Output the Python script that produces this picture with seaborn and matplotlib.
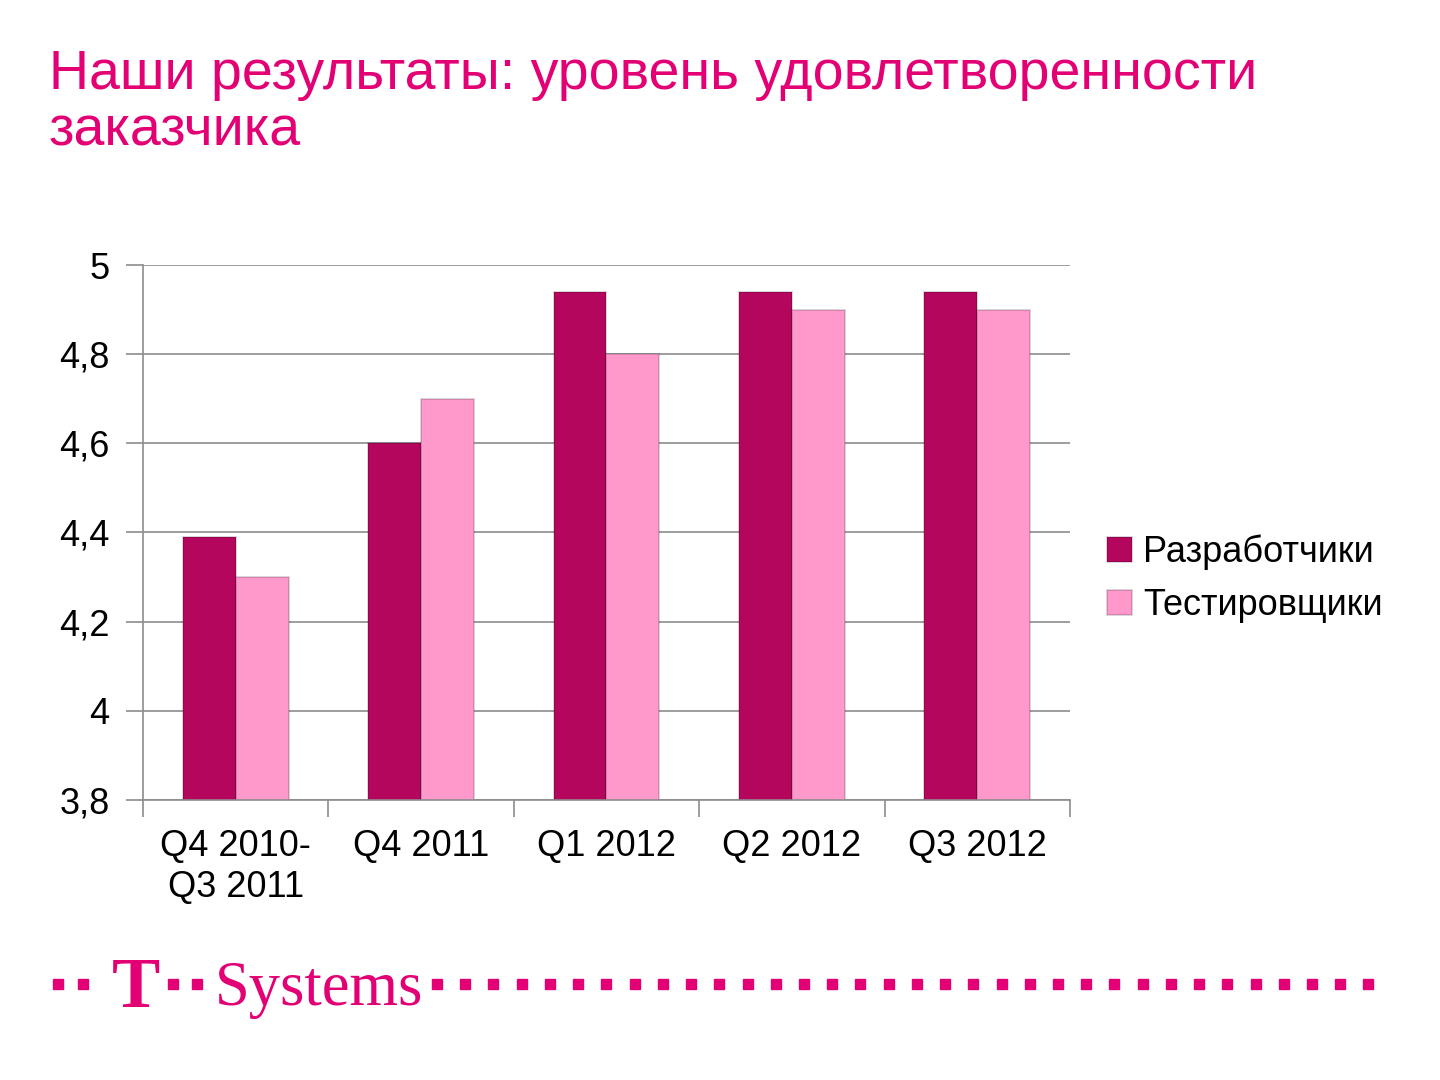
import numpy as np
import pandas as pd
import matplotlib.pyplot as plt
import seaborn as sns

# --- data ---
periods = ["Q4 2010-\nQ3 2011", "Q4 2011", "Q1 2012", "Q2 2012", "Q3 2012"]
developers = [4.39, 4.60, 4.94, 4.94, 4.94]
testers = [4.30, 4.70, 4.80, 4.90, 4.90]
groups = ["Разработчики", "Тестировщики"]
y_ticks = [3.8, 4.0, 4.2, 4.4, 4.6, 4.8, 5.0]
y_labels = ["3,8", "4", "4,2", "4,4", "4,6", "4,8", "5"]

magenta = "#E20074"
colors = {"Разработчики": "#B5065E", "Тестировщики": "#FF99CC"}

df = pd.DataFrame({
    "period": periods * 2,
    "value": developers + testers,
    "group": [groups[0]] * len(periods) + [groups[1]] * len(periods),
})

sns.set_theme(style="white")
plt.rcParams['font.family'] = ['Liberation Sans', 'DejaVu Sans']
plt.rcParams['text.color'] = 'black'
plt.rcParams['xtick.color'] = 'black'
plt.rcParams['ytick.color'] = 'black'

fig = plt.figure(figsize=(14.4, 10.8), dpi=100)
ax = fig.add_axes([0.0993, 0.2593, 0.6437, 0.4953])

sns.barplot(data=df, x="period", y="value", hue="group", palette=colors,
            width=0.57, ax=ax, edgecolor="none", linewidth=0, saturation=1)

# subtle darker edge, like the bevel on the slide
for p in ax.patches:
    p.set_edgecolor("#00000030")
    p.set_linewidth(1.2)

ax.set_ylim(3.8, 5.0)
ax.set_xlim(-0.5, len(periods) - 0.5)
ax.set_yticks(y_ticks)
ax.set_yticklabels(y_labels, fontsize=26)
ax.set_xticks(range(len(periods)))
ax.set_xticklabels(periods, fontsize=26)
ax.set_xlabel("")
ax.set_ylabel("")

ax.grid(axis="y", color="#8C8C8C", linewidth=1.2)
ax.set_axisbelow(True)
for side in ["top", "right"]:
    ax.spines[side].set_visible(False)
for side in ["left", "bottom"]:
    ax.spines[side].set_color("#8C8C8C")
    ax.spines[side].set_linewidth(1.2)

ax.tick_params(axis="y", which="major", direction="out", length=12, width=1.2,
               color="#8C8C8C", pad=12, left=True, labelcolor="black")
ax.tick_params(axis="x", which="major", length=0, pad=21, labelcolor="black")
ax.set_xticks(np.arange(-0.5, len(periods), 1.0), minor=True)
ax.tick_params(axis="x", which="minor", direction="out", length=12, width=1.2,
               color="#8C8C8C", bottom=True)

leg = ax.legend(loc="center left", bbox_to_anchor=(0.746, 0.464),
                bbox_transform=fig.transFigure, frameon=False, fontsize=26,
                handlelength=0.7, handleheight=0.7, handletextpad=0.3,
                labelspacing=0.5)
for t in leg.get_texts():
    t.set_color("black")

# title
fig.text(0.034, 0.955, "Наши результаты: уровень удовлетворенности\nзаказчика",
         color=magenta, fontsize=40, ha="left", va="top", linespacing=1.12)

# T-Systems footer
y_logo = 0.089
dot_x = [0.0403, 0.0576, 0.1201, 0.1368]
dot_x += list(np.arange(0.3035, 0.962, 0.0196))
fig.lines.append(plt.Line2D(dot_x, [y_logo] * len(dot_x), transform=fig.transFigure,
                            linestyle="none", marker="s", markersize=6.5,
                            color=magenta))
fig.text(0.0945, 0.068, "T", color=magenta, fontsize=52, ha="center",
         va="baseline", family=["Liberation Serif", "DejaVu Serif"], weight="bold")
fig.text(0.149, 0.069, "Systems", color=magenta, fontsize=45, ha="left",
         va="baseline", family=["Liberation Serif", "DejaVu Serif"])

fig.savefig("out.png", dpi=100)
